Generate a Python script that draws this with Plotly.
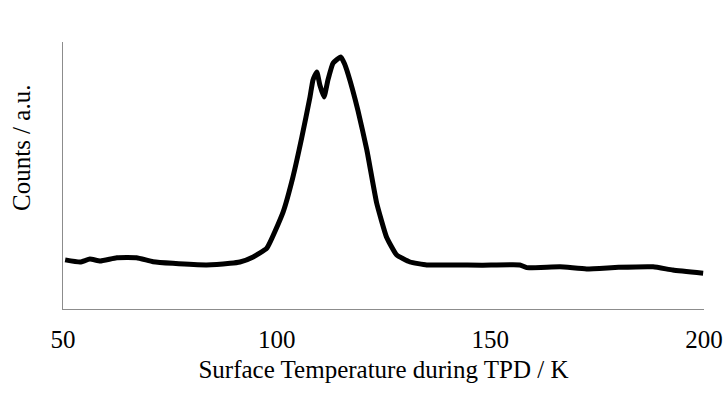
import plotly.graph_objects as go

temperature_K = [50.5, 54.0, 56.3, 58.7, 62.6, 67.2, 71.1, 75.7, 83.6, 89.1, 91.4,
                 94.5, 97.7, 101.5, 103.8, 105.9, 107.8, 108.5, 109.4, 110.1, 111.1,
                 112.0, 113.2, 115.0, 115.8, 116.7, 119.0, 121.1, 123.4, 125.7, 128.1,
                 131.2, 135.1, 141.3, 148.0, 156.9, 158.5, 166.3, 172.5, 180.0, 188.1,
                 192.7, 199.8]
counts_au = [0.184, 0.176, 0.187, 0.180, 0.192, 0.192, 0.177, 0.171, 0.165, 0.171, 0.176,
             0.195, 0.228, 0.363, 0.494, 0.644, 0.794, 0.858, 0.888, 0.839, 0.794,
             0.858, 0.921, 0.944, 0.921, 0.880, 0.745, 0.596, 0.397, 0.270, 0.202,
             0.176, 0.165, 0.165, 0.164, 0.165, 0.155, 0.158, 0.150, 0.156, 0.158,
             0.146, 0.134]
x_ticks = [50, 100, 150, 200]

font = "Liberation Serif, Times New Roman, serif"

fig = go.Figure(go.Scatter(x=temperature_K, y=counts_au, mode="lines",
                           line=dict(color="black", width=5, shape="spline", smoothing=0.4),
                           hoverinfo="skip"))

fig.update_layout(
    width=725, height=394,
    margin=dict(l=63, r=21, t=42, b=85),
    paper_bgcolor="white", plot_bgcolor="white",
    showlegend=False,
    font=dict(family=font, size=25, color="black"),
)
fig.update_xaxes(
    range=[50, 200], tickvals=x_ticks, ticktext=[str(t) for t in x_ticks],
    showline=True, linecolor="#8c8c8c", linewidth=1.3, showgrid=False, zeroline=False,
    ticks="", ticklabelstandoff=8,
    title=dict(text="Surface Temperature during TPD / K", standoff=8,
               font=dict(family=font, size=25)),
    automargin=False,
)
fig.update_yaxes(
    range=[0, 1], showline=True, linecolor="#8c8c8c", linewidth=1.3,
    showgrid=False, zeroline=False, showticklabels=False, ticks="",
    automargin=False,
)
fig.add_annotation(text="Counts / a.u.", xref="paper", yref="paper",
                   x=-0.064, y=0.603, xanchor="center", yanchor="middle",
                   textangle=-90, showarrow=False, font=dict(family=font, size=25))

fig.write_html("out.html")
